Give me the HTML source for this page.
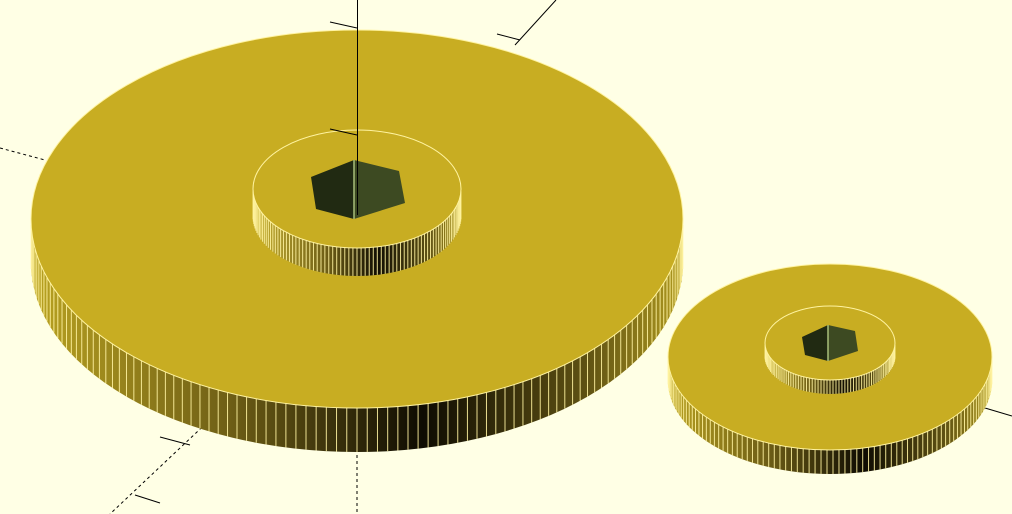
<!DOCTYPE html>
<html><head><meta charset="utf-8"><style>
html,body{margin:0;padding:0;background:#ffffe5;}
svg{display:block;}
</style></head><body>
<svg id="scene" width="1012" height="514" viewBox="0 0 1012 514" xmlns="http://www.w3.org/2000/svg">
<defs>
<linearGradient id="sideBig" x1="32" x2="683" y1="0" y2="0" gradientUnits="userSpaceOnUse">
<stop offset="0" stop-color="#b9a221"/><stop offset="0.3" stop-color="#6f5f16"/><stop offset="0.6" stop-color="#0e0b02"/><stop offset="0.85" stop-color="#5e5113"/><stop offset="1" stop-color="#b09a20"/>
</linearGradient>
<linearGradient id="sideSmall" x1="668" x2="993" y1="0" y2="0" gradientUnits="userSpaceOnUse">
<stop offset="0" stop-color="#b9a221"/><stop offset="0.3" stop-color="#6f5f16"/><stop offset="0.6" stop-color="#0e0b02"/><stop offset="0.85" stop-color="#5e5113"/><stop offset="1" stop-color="#b09a20"/>
</linearGradient>
<linearGradient id="sideHub" x1="253" x2="461" y1="0" y2="0" gradientUnits="userSpaceOnUse">
<stop offset="0" stop-color="#c9b233"/><stop offset="0.35" stop-color="#6f5f16"/><stop offset="0.6" stop-color="#120e03"/><stop offset="0.85" stop-color="#5e5113"/><stop offset="1" stop-color="#b09a20"/>
</linearGradient>
<linearGradient id="sideHub2" x1="765" x2="895" y1="0" y2="0" gradientUnits="userSpaceOnUse">
<stop offset="0" stop-color="#c9b233"/><stop offset="0.35" stop-color="#6f5f16"/><stop offset="0.6" stop-color="#120e03"/><stop offset="0.85" stop-color="#5e5113"/><stop offset="1" stop-color="#b09a20"/>
</linearGradient>
</defs>
<g id="axes" stroke="#000" stroke-width="1" fill="none">
<line x1="0" y1="148" x2="45" y2="160" stroke-dasharray="3,3"/>
<line x1="357" y1="455" x2="357" y2="514" stroke-dasharray="3,3"/>
<line x1="215" y1="415" x2="110" y2="514" stroke-dasharray="3,3"/>
<line x1="160" y1="437" x2="190" y2="445"/>
<line x1="135" y1="495" x2="160" y2="503"/>
<line x1="515" y1="45" x2="556" y2="0"/>
<line x1="497" y1="34" x2="520" y2="40"/>
<line x1="985" y1="408" x2="1012" y2="416"/>
<line x1="330" y1="22" x2="357" y2="28"/>
</g>
<g id="gears"></g>
<line x1="357.5" y1="0" x2="357.5" y2="215" stroke="#000" stroke-width="1"/>
<line x1="330" y1="129" x2="357" y2="135" stroke="#000" stroke-width="1"/>
</svg>
<script>
const NS='http://www.w3.org/2000/svg';
const G=document.getElementById('gears');
function mk(tag,attrs,parent){const e=document.createElementNS(NS,tag);for(const k in attrs)e.setAttribute(k,attrs[k]);(parent||G).appendChild(e);return e;}
function disk(name,cx,cy,rx,ry,h,grad,n){
  const g=mk('g',{});
  
  
  const d=`M${cx-rx},${cy} L${cx-rx},${cy+h} A${rx},${ry} 0 0 0 ${cx+rx},${cy+h} L${cx+rx},${cy} A${rx},${ry} 0 0 1 ${cx-rx},${cy} Z`;
  const side=mk('path',{d:d,fill:`url(#${grad})`},g);
  
  
  for(let i=1;i<n;i++){const t=Math.PI*i/n;const x=cx-rx*Math.cos(t);const y=cy+ry*Math.sin(t);
    mk('line',{x1:x,y1:y,x2:x,y2:y+h,stroke:'#fff3a0','stroke-width':1,'stroke-opacity':0.9},g);}
  const top=mk('ellipse',{cx:cx,cy:cy,rx:rx,ry:ry,fill:'#c8ad22',stroke:'#fff3a0','stroke-width':1},g);
  
  
  return g;
}
function hex(name,pts){
  const g=mk('g',{});
  
  
  mk('polygon',{points:[pts[0],pts[1],pts[4],pts[5]].map(p=>p.join(',')).join(' '),fill:'#212a12'},g);
  mk('polygon',{points:[pts[1],pts[2],pts[3],pts[4]].map(p=>p.join(',')).join(' '),fill:'#3d4a22'},g);
  mk('line',{x1:pts[1][0],y1:pts[1][1],x2:pts[4][0],y2:pts[4][1],stroke:'#a9c07a','stroke-width':1.5},g);
}
disk('large-gear',357,219,326,189,44,'sideBig',100);
disk('large-gear-hub',357,189,104,59,28,'sideHub',80);
hex('large-gear-hex-hole',[[311,177],[354,160],[399,171],[405,203],[354,219],[316,209]]);
disk('small-gear',830,357,162,93,24,'sideSmall',85);
disk('small-gear-hub',830,343,65,37,14,'sideHub2',68);
hex('small-gear-hex-hole',[[802,337],[828,325],[855,331],[858,351],[828,361],[805,355]]);
</script>
</body></html>
